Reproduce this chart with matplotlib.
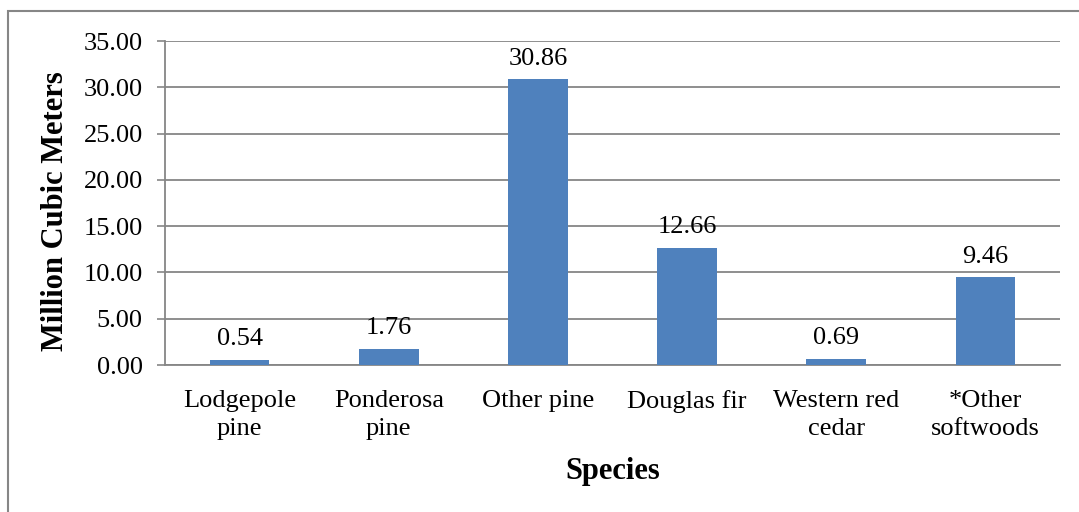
import matplotlib.pyplot as plt
from matplotlib.patches import Rectangle
import numpy as np

species = ['Lodgepole\npine', 'Ponderosa\npine', 'Other pine', 'Douglas fir',
           'Western red\ncedar', '*Other\nsoftwoods']
volume = [0.54, 1.76, 30.86, 12.66, 0.69, 9.46]
yticks = [0, 5, 10, 15, 20, 25, 30, 35]

plt.rcParams['font.family'] = ['Liberation Serif', 'DejaVu Serif']

fig = plt.figure(figsize=(10.79, 5.12), dpi=100)
ax = fig.add_axes([165/1079, 1 - 365/512, (1060 - 165)/1079, (365 - 41)/512])

grey = '#868686'
x = np.arange(len(species))
ax.bar(x, volume, width=0.4, color='#4F81BD', zorder=3)

for xi, v in zip(x, volume):
    ax.annotate('%.2f' % v, (xi, v), xytext=(0, 7), textcoords='offset points',
                ha='center', va='bottom', fontsize=19)

ax.set_xlim(-0.5, len(species) - 0.5)
ax.set_ylim(0, 35)
ax.set_yticks(yticks)
ax.set_yticklabels(['%.2f' % t for t in yticks], fontsize=19)
ax.set_xticks(x)
ax.set_xticklabels(species, fontsize=19, linespacing=1.35)
ax.tick_params(axis='x', length=0, pad=18)
ax.tick_params(axis='y', length=6, width=1.2, color=grey, pad=10)

ax.grid(axis='y', color=grey, lw=1.3, zorder=0)
for s in ['top', 'right']:
    ax.spines[s].set_visible(False)
for s in ['left', 'bottom']:
    ax.spines[s].set_color(grey)
    ax.spines[s].set_linewidth(1.3)

ax.set_ylabel('Million Cubic Meters', fontsize=22, fontweight='bold')
ax.set_xlabel('Species', fontsize=22, fontweight='bold')
ax.yaxis.set_label_coords(-0.106, 0.475)
ax.xaxis.set_label_coords(0.5, -0.285)

# chart frame
fig.patches.append(Rectangle((8/1079, -0.1), 1.2, 1 - 11/512 + 0.1,
                             transform=fig.transFigure, fill=False,
                             edgecolor=grey, lw=1.5))

fig.savefig('out.png', dpi=100)
